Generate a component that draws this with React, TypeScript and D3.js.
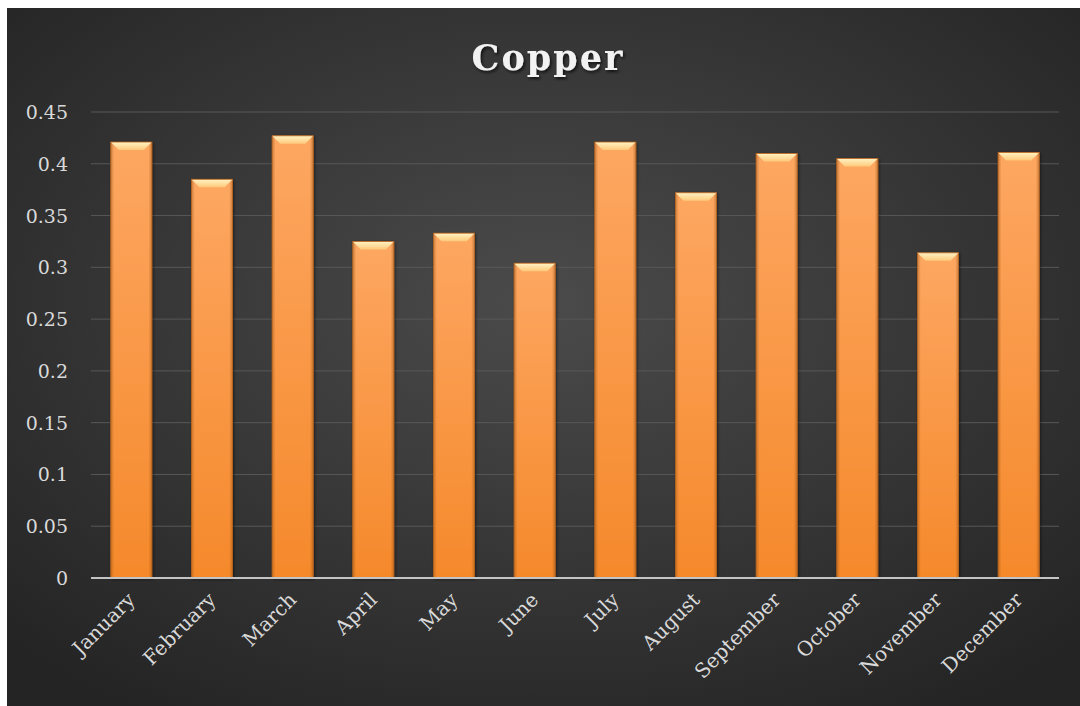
import React from "react";
import * as d3 from "d3";

const months = ["January","February","March","April","May","June","July","August","September","October","November","December"];
const copper = [0.421,0.385,0.427,0.325,0.333,0.304,0.421,0.372,0.410,0.405,0.314,0.411];
const yTicks = [0,0.05,0.1,0.15,0.2,0.25,0.3,0.35,0.4,0.45];
const yTickLabels = ["0","0.05","0.1","0.15","0.2","0.25","0.3","0.35","0.4","0.45"];

export default function App() {
  const W = 1073, H = 698;
  const ox = 7, oy = 8;
  const x = d3.scaleBand<string>().domain(months).range([91 - ox, 1059 - ox]).paddingInner(0.49).paddingOuter(0.245);
  const y = d3.scaleLinear().domain([0, 0.45]).range([578 - oy, 112 - oy]);
  const bw = x.bandwidth();
  const font = "'DejaVu Serif', 'Liberation Serif', serif";
  return (
    <svg width={W} height={H} style={{ position: "absolute", left: ox, top: oy, display: "block" }}>
      <defs>
        <radialGradient id="bg" cx="50%" cy="42%" r="70%">
          <stop offset="0%" stopColor="#4b4b4b" />
          <stop offset="100%" stopColor="#242424" />
        </radialGradient>
        <linearGradient id="barV" x1="0" y1="0" x2="0" y2="1">
          <stop offset="0%" stopColor="#fda762" />
          <stop offset="100%" stopColor="#f5892b" />
        </linearGradient>
        <linearGradient id="barH" x1="0" y1="0" x2="1" y2="0">
          <stop offset="0%" stopColor="#8a4a10" stopOpacity="0.45" />
          <stop offset="8%" stopColor="#8a4a10" stopOpacity="0" />
          <stop offset="92%" stopColor="#8a4a10" stopOpacity="0" />
          <stop offset="100%" stopColor="#8a4a10" stopOpacity="0.45" />
        </linearGradient>
        <linearGradient id="cap" x1="0" y1="0" x2="0" y2="1">
          <stop offset="0%" stopColor="#fff3c4" />
          <stop offset="100%" stopColor="#ffc97a" />
        </linearGradient>
        <filter id="tshadow" x="-20%" y="-20%" width="140%" height="160%">
          <feDropShadow dx="1.5" dy="2" stdDeviation="1.5" floodColor="#000" floodOpacity="0.7" />
        </filter>
        <filter id="bshadow" x="-20%" y="-5%" width="140%" height="110%">
          <feDropShadow dx="1" dy="1" stdDeviation="1.5" floodColor="#000" floodOpacity="0.5" />
        </filter>
      </defs>
      <rect x={0} y={0} width={W} height={H} fill="url(#bg)" />
      <text x={548 - ox} y={70 - oy} textAnchor="middle" fontFamily={font} fontWeight="bold" fontSize={35} letterSpacing={2} fill="#f2f2f2" filter="url(#tshadow)">Copper</text>
      {yTicks.map((t, i) => (
        <g key={i}>
          {t > 0 && <line x1={91 - ox} x2={1059 - ox} y1={y(t)} y2={y(t)} stroke="#585858" strokeWidth={1} />}
          <text x={68 - ox} y={y(t) + 7} textAnchor="end" fontFamily={font} fontSize={19} fill="#d9d9d9">{yTickLabels[i]}</text>
        </g>
      ))}
      {months.map((m, i) => {
        const bx = x(m)!;
        const by = y(copper[i]);
        const bh = y(0) - by;
        const capH = 8;
        return (
          <g key={m} filter="url(#bshadow)">
            <rect x={bx} y={by} width={bw} height={bh} fill="url(#barV)" />
            <rect x={bx} y={by} width={bw} height={bh} fill="url(#barH)" />
            <path d={`M${bx},${by}L${bx + bw},${by}L${bx + bw - capH},${by + capH}L${bx + capH},${by + capH}Z`} fill="url(#cap)" />
            <rect x={bx} y={by} width={bw} height={bh} fill="none" stroke="#b8641e" strokeWidth={0.8} />
          </g>
        );
      })}
      <line x1={91 - ox} x2={1059 - ox} y1={y(0)} y2={y(0)} stroke="#c4c4c4" strokeWidth={2} />
      {months.map((m) => {
        const cx = x(m)! + bw / 2 + 5;
        const ty = 601 - oy;
        return (
          <text key={m} transform={`translate(${cx},${ty}) rotate(-45)`} textAnchor="end" fontFamily={font} fontSize={20} fill="#d9d9d9">{m}</text>
        );
      })}
    </svg>
  );
}
